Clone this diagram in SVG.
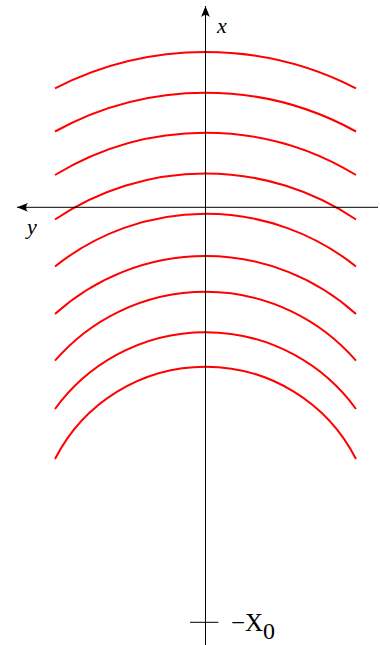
<svg xmlns="http://www.w3.org/2000/svg" width="380" height="645" viewBox="0 0 380 645">
  <style>
    .axis { fill: none; stroke: #000; stroke-width: 1; }
    .front { fill: none; stroke: #ff0000; stroke-width: 2; }
    .lbl { font-family: "Liberation Serif", "Times New Roman", serif; fill: #000; }
    .it { font-style: italic; font-size: 22px; }
  </style>
  <defs>
    <marker id="arrow" markerUnits="userSpaceOnUse" viewBox="0 0 12 10" refX="11" refY="5" markerWidth="12" markerHeight="10" orient="auto">
      <path d="M11,5 L0,0.6 Q4,5 0,9.4 Z" fill="#000"/>
    </marker>
  </defs>
  <rect width="380" height="645" fill="#fff"/>
  <g id="wavefronts">
    <path class="front" d="M55,88.3 A330.1,330.1 0 0 1 356,88.3"/>
    <path class="front" d="M55,131.5 A311.3,311.3 0 0 1 356,131.5"/>
    <path class="front" d="M55,175 A288.9,288.9 0 0 1 356,175"/>
    <path class="front" d="M55,219.5 A269.2,269.2 0 0 1 356,219.5"/>
    <path class="front" d="M55,266.5 A240.9,240.9 0 0 1 356,266.5"/>
    <path class="front" d="M55,314 A224.3,224.3 0 0 1 356,314"/>
    <path class="front" d="M55,360.7 A198.8,198.8 0 0 1 356,360.7"/>
    <path class="front" d="M55,409 A185.9,185.9 0 0 1 356,409"/>
    <path class="front" d="M55,459 A168.8,168.8 0 0 1 356,459"/>
  </g>
  <g id="axes">
    <path id="x-axis" class="axis" d="M205.5,645 L205.5,6" marker-end="url(#arrow)"/>
    <path id="y-axis" class="axis" d="M378,207.3 L17,207.3" marker-end="url(#arrow)"/>
    <path id="tick" class="axis" d="M190,622.3 L218.3,622.3"/>
  </g>
  <g id="labels">
    <text class="lbl it" x="217" y="33.3">x</text>
    <text class="lbl it" x="27" y="233.5">y</text>
    <text class="lbl" x="231" y="630.7" font-size="25">−X</text>
    <text class="lbl" x="263" y="639.3" font-size="24">0</text>
  </g>
</svg>
